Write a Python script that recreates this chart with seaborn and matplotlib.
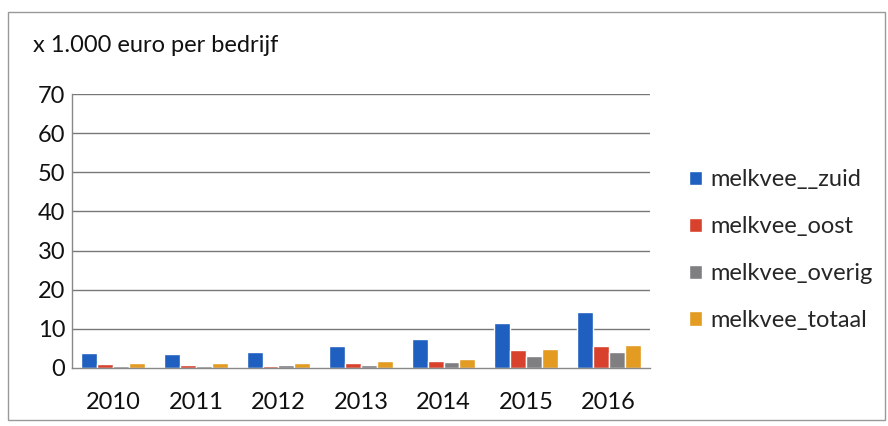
import matplotlib
matplotlib.use("Agg")
import matplotlib.pyplot as plt
import seaborn as sns
import pandas as pd
from matplotlib.patches import Rectangle

years = ["2010", "2011", "2012", "2013", "2014", "2015", "2016"]
series_names = ["melkvee__zuid", "melkvee_oost", "melkvee_overig", "melkvee_totaal"]
zuid = [3.9, 3.7, 4.1, 5.7, 7.4, 11.4, 14.2]
oost = [1.1, 0.8, 0.6, 1.2, 1.9, 4.5, 5.5]
overig = [0.4, 0.4, 0.7, 0.8, 1.5, 3.1, 4.0]
totaal = [1.2, 1.3, 1.4, 1.7, 2.4, 4.9, 5.8]
colors = ["#1F5FBF", "#D8412C", "#7F7F82", "#E39B22"]

rows = []
for name, vals in zip(series_names, [zuid, oost, overig, totaal]):
    for y, v in zip(years, vals):
        rows.append({"jaar": y, "serie": name, "waarde": v})
df = pd.DataFrame(rows)

sns.set_theme(style="white")
plt.rcParams['font.family'] = ['Lato', 'DejaVu Sans']

fig = plt.figure(figsize=(8.88, 4.26), dpi=100)
ax = fig.add_axes([72/888, 1-368/426, (650-72)/888, (368-94)/426])

sns.barplot(data=df, x="jaar", y="waarde", hue="serie", palette=colors,
            width=0.77, gap=0, ax=ax, saturation=1, legend=True)

ax.set_ylim(0, 70)
ax.set_yticks(range(0, 71, 10))
ax.set_xlim(-0.5, 6.5)
ax.set_xlabel("")
ax.set_ylabel("")
for v in range(10, 71, 10):
    ax.axhline(v, color="#777777", lw=1.0, zorder=0)
for s in ["top", "right"]:
    ax.spines[s].set_visible(False)
ax.spines["left"].set_color("#888888")
ax.spines["bottom"].set_color("#888888")
ax.spines["left"].set_linewidth(1.0)
ax.spines["bottom"].set_linewidth(1.0)
ax.tick_params(axis="both", length=0, labelsize=17, colors="#111111")
ax.tick_params(axis="y", pad=5)
ax.tick_params(axis="x", pad=17)

leg = ax.legend(loc="center left", bbox_to_anchor=((689-72)/578, (368-250)/274),
                frameon=False, fontsize=17, handlelength=0.55, handleheight=0.55,
                handletextpad=0.35, labelspacing=1.1, borderpad=0, borderaxespad=0)

fig.text(33/888, 1-46/426, "x 1.000 euro per bedrijf", fontsize=17,
         va="center", ha="left", color="#111111")

fig.patches.append(Rectangle((8/888, 6/426), 877/888, 408/426, transform=fig.transFigure,
                             fill=False, edgecolor="#999999", lw=1.0))

fig.savefig("out.png", dpi=100)
